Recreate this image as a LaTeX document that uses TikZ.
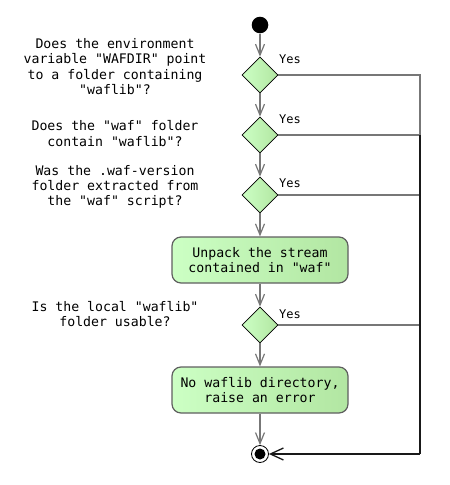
\documentclass[tikz,border=0pt]{standalone}
\usepackage{fontspec}
\setmonofont{DejaVu Sans Mono}
\usetikzlibrary{arrows.meta,shapes.geometric}
\definecolor{edge}{HTML}{777777}
\definecolor{gl}{HTML}{CCFFC4}
\definecolor{gr}{HTML}{B2E6A2}
\tikzset{
  every node/.style={font=\ttfamily\fontsize{13.2}{15.2}\selectfont},
  dia/.style={diamond,draw=black,line width=0.6pt,minimum width=36pt,minimum height=36pt,inner sep=0pt,aspect=1,left color=gl,right color=gr,shading angle=90},
  act/.style={draw=edge!80!black,line width=1.2pt,rounded corners=9pt,minimum width=176pt,minimum height=46pt,inner sep=0pt,align=center,left color=gl,right color=gr},
  q/.style={align=center},
  yes/.style={font=\ttfamily\fontsize{12}{14}\selectfont,anchor=west,inner sep=0pt},
  flow/.style={draw=edge,line width=1.4pt,-{Straight Barb[length=11pt,width=9pt,line width=1.2pt]}},
  seg/.style={draw=edge,line width=1.4pt},
  blk/.style={draw=black!90,line width=1.6pt},
}
\begin{document}
\begin{tikzpicture}[x=1pt,y=-1pt]
\useasboundingbox (0,0) rectangle (450,485);
\node[circle,fill=black,minimum size=16.6pt,inner sep=0pt] (start) at (260,25) {};
\node[dia] (d1) at (260,75) {};
\node[dia] (d2) at (260,135) {};
\node[dia] (d3) at (260,195) {};
\node[act] (a1) at (260,260) {Unpack the stream\\contained in "waf"};
\node[dia] (d4) at (260,325) {};
\node[act] (a2) at (260,390) {No waflib directory,\\raise an error};
\node[circle,draw=black,line width=0.8pt,fill=white,minimum size=17pt,inner sep=0pt] (endo) at (260,454) {};
\node[circle,fill=black,minimum size=11pt,inner sep=0pt] (endi) at (260,454) {};

\node[q] (t1) at (115,66.5) {Does the environment\\variable "WAFDIR" point\\to a folder containing\\"waflib"?};
\node[q] (t2) at (115,133.5) {Does the "waf" folder\\contain "waflib"?};
\node[q] (t3) at (115,186.7) {Was the .waf-version\\folder extracted from\\the "waf" script?};
\node[q] (t4) at (115,314) {Is the local "waflib"\\folder usable?};

\node[yes] (y1) at (279,59) {Yes};
\node[yes] (y2) at (279,119.5) {Yes};
\node[yes] (y3) at (279,183.5) {Yes};
\node[yes] (y4) at (279,314.5) {Yes};

\coordinate (r1) at (420,75);
\coordinate (r2) at (420,135);
\coordinate (r3) at (420,195);
\coordinate (r4) at (420,325);
\coordinate (r5) at (420,454);

\path[flow] (start) -- (d1.north);
\path[flow] (d1.south) -- (d2.north);
\path[flow] (d2.south) -- (d3.north);
\path[flow] (d3.south) -- (a1.north);
\path[flow] (a1.south) -- (d4.north);
\path[flow] (d4.south) -- (a2.north);
\path[flow] (a2.south) -- (endo.north);

\path[seg] (d1.east) -- (r1) -- (r2);
\path[seg] (d2.east) -- (r2);
\path[seg] (d3.east) -- (r3);
\path[seg] (d4.east) -- (r4);
\path[blk] (r2) -- (r5);
\path[blk,-{Straight Barb[length=13pt,width=12pt,line width=1.3pt]}] (r5) -- (endo.east);
\end{tikzpicture}
\end{document}
